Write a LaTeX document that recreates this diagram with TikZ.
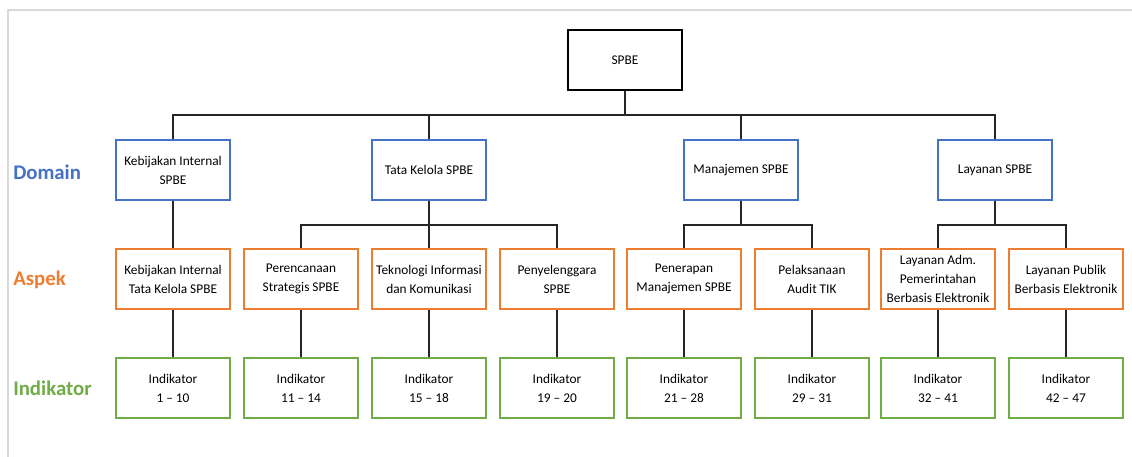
\documentclass[tikz,border=0pt]{standalone}
\usepackage{fontspec}
\setmainfont{Carlito}
\definecolor{domainblue}{HTML}{4472C4}
\definecolor{aspekorange}{HTML}{ED7D31}
\definecolor{indigreen}{HTML}{70AD47}
\definecolor{framegray}{HTML}{D9D9D9}
\begin{document}
\begin{tikzpicture}[x=0.75pt,y=-0.75pt,
    box/.style={draw,line width=1.4pt,fill=white,align=center,
      minimum width=85.5pt,minimum height=45pt,inner sep=1pt,
      font=\fontsize{10}{14.3}\selectfont},
    rootbox/.style={box,draw=black},
    domainbox/.style={box,draw=domainblue},
    aspekbox/.style={box,draw=aspekorange},
    indibox/.style={box,draw=indigreen},
    rowlabel/.style={anchor=west,inner sep=0pt,font=\fontsize{15.6}{18}\selectfont\bfseries},
    link/.style={draw=black!85,line width=0.9pt}]
			% SPBE hierarchy
			\useasboundingbox (0,0) rectangle (1132,457);
			\draw[framegray,line width=1.5pt] (8,457) -- (8,10) -- (1132,10);
			
			\node[rowlabel,text=domainblue] (lblDomain) at (13,172) {Domain};
			\node[rowlabel,text=aspekorange] (lblAspek) at (13,280) {Aspek};
			\node[rowlabel,text=indigreen] (lblIndikator) at (13,388) {Indikator};
			
			\node[rootbox] (SPBE) at (625,60) {SPBE};
			
			\node[domainbox] (dKebijakan) at (173,170) {Kebijakan Internal\\SPBE};
			\node[domainbox] (dTataKelola) at (429,170) {Tata Kelola SPBE};
			\node[domainbox] (dManajemen) at (741,170) {Manajemen SPBE};
			\node[domainbox] (dLayanan) at (995,170) {Layanan SPBE};
			
			\node[aspekbox] (aKebijakan) at (173,279) {Kebijakan Internal\\Tata Kelola SPBE};
			\node[aspekbox] (aPerencanaan) at (301,279) {Perencanaan\\Strategis SPBE};
			\node[aspekbox] (aTeknologi) at (429,279) {Teknologi Informasi\\dan Komunikasi};
			\node[aspekbox] (aPenyelenggara) at (557,279) {Penyelenggara\\SPBE};
			\node[aspekbox] (aPenerapan) at (684,279) {Penerapan\\Manajemen SPBE};
			\node[aspekbox] (aAudit) at (812,279) {Pelaksanaan\\Audit TIK};
			\node[aspekbox] (aLayananAdm) at (938,279) {Layanan Adm.\\Pemerintahan\\Berbasis Elektronik};
			\node[aspekbox] (aLayananPublik) at (1066,279) {Layanan Publik\\Berbasis Elektronik};
			
			\node[indibox] (iOne) at (173,388) {Indikator\\1 -- 10};
			\node[indibox] (iTwo) at (301,388) {Indikator\\11 -- 14};
			\node[indibox] (iThree) at (429,388) {Indikator\\15 -- 18};
			\node[indibox] (iFour) at (557,388) {Indikator\\19 -- 20};
			\node[indibox] (iFive) at (684,388) {Indikator\\21 -- 28};
			\node[indibox] (iSix) at (812,388) {Indikator\\29 -- 31};
			\node[indibox] (iSeven) at (938,388) {Indikator\\32 -- 41};
			\node[indibox] (iEight) at (1066,388) {Indikator\\42 -- 47};
			
			\coordinate (busTop) at (0,115);
			\coordinate (busMid) at (0,225);
			
			\draw[link] (SPBE.south) |- (dKebijakan |- busTop) -- (dKebijakan.north);
			\draw[link] (SPBE.south) |- (dTataKelola |- busTop) -- (dTataKelola.north);
			\draw[link] (SPBE.south) |- (dManajemen |- busTop) -- (dManajemen.north);
			\draw[link] (SPBE.south) |- (dLayanan |- busTop) -- (dLayanan.north);
			
			\draw[link] (dKebijakan.south) to (aKebijakan.north);
			\draw[link] (dTataKelola.south) |- (aPerencanaan |- busMid) -- (aPerencanaan.north);
			\draw[link] (dTataKelola.south) to (aTeknologi.north);
			\draw[link] (dTataKelola.south) |- (aPenyelenggara |- busMid) -- (aPenyelenggara.north);
			\draw[link] (dManajemen.south) |- (aPenerapan |- busMid) -- (aPenerapan.north);
			\draw[link] (dManajemen.south) |- (aAudit |- busMid) -- (aAudit.north);
			\draw[link] (dLayanan.south) |- (aLayananAdm |- busMid) -- (aLayananAdm.north);
			\draw[link] (dLayanan.south) |- (aLayananPublik |- busMid) -- (aLayananPublik.north);
			
			\draw[link] (aKebijakan) to (iOne);
			\draw[link] (aPerencanaan) to (iTwo);
			\draw[link] (aTeknologi) to (iThree);
			\draw[link] (aPenyelenggara) to (iFour);
			\draw[link] (aPenerapan) to (iFive);
			\draw[link] (aAudit) to (iSix);
			\draw[link] (aLayananAdm) to (iSeven);
			\draw[link] (aLayananPublik) to (iEight);
			
			\end{tikzpicture}
\end{document}
